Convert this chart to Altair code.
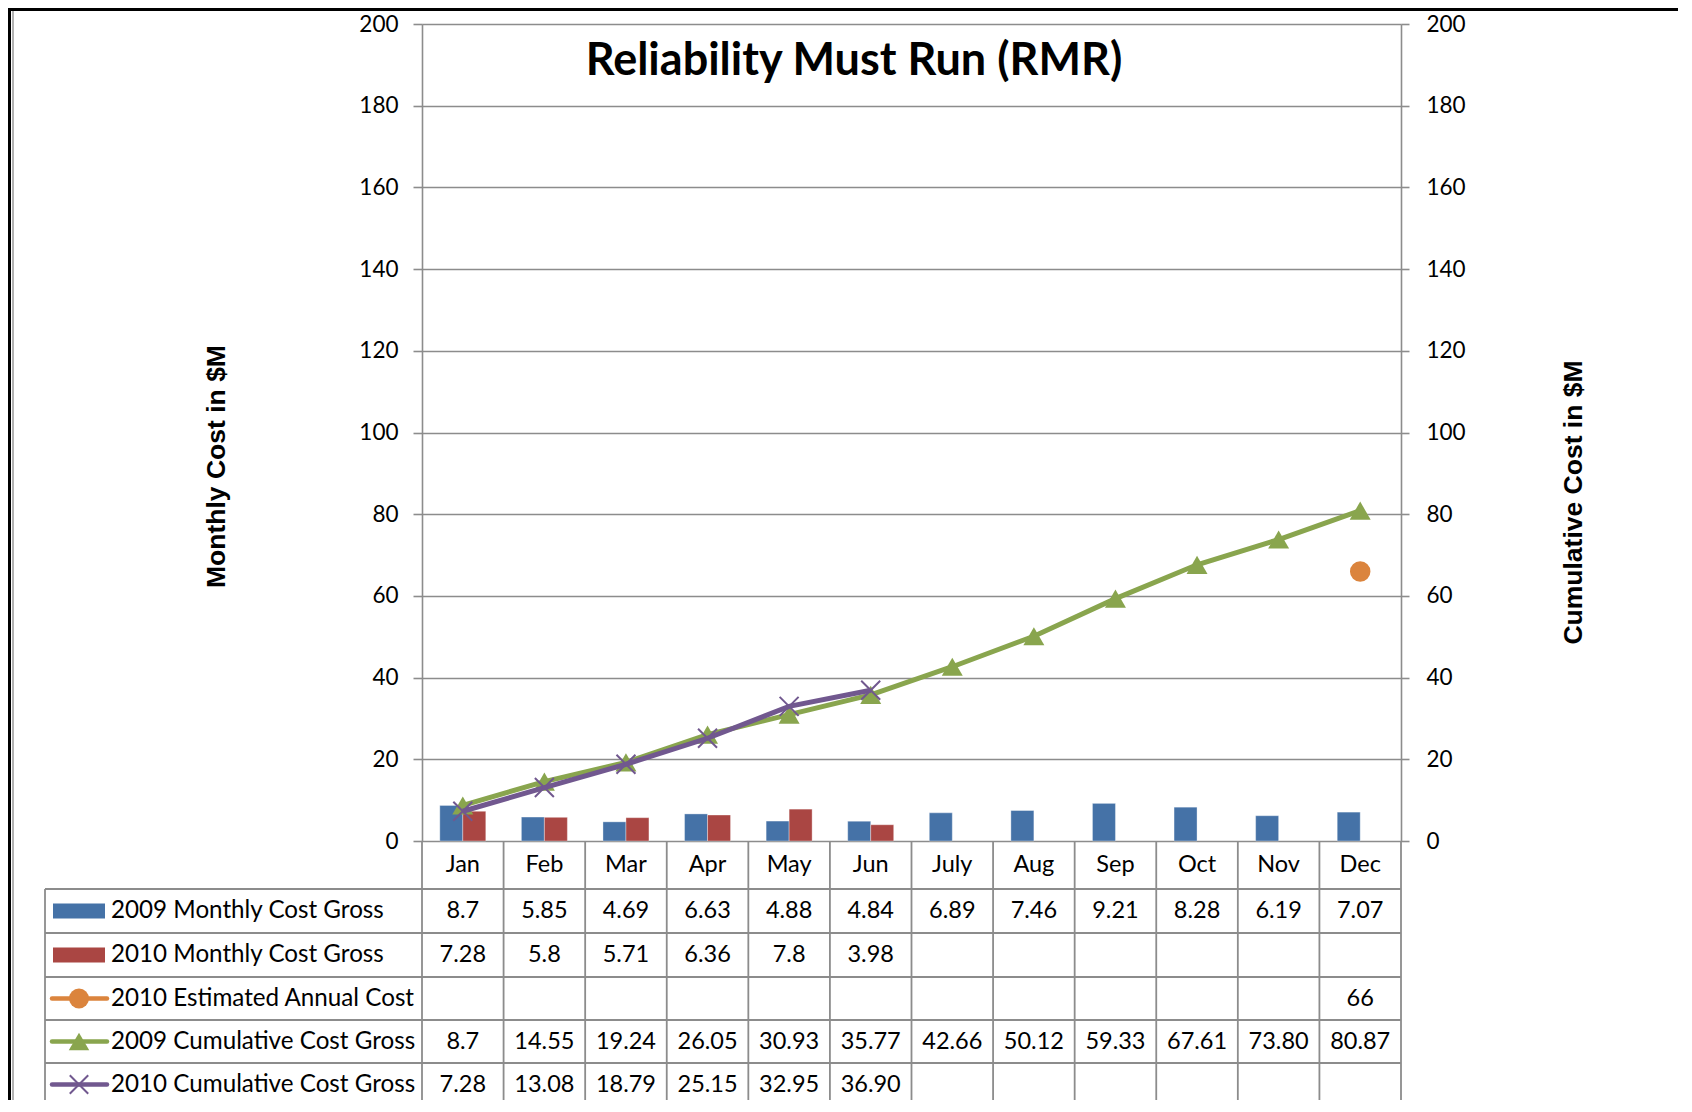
import altair as alt
import pandas as pd

# ---------------- data (as shown in the chart's data table) ----------------
months = ["Jan", "Feb", "Mar", "Apr", "May", "Jun", "July", "Aug", "Sep", "Oct", "Nov", "Dec"]
monthly_2009 = ["8.7", "5.85", "4.69", "6.63", "4.88", "4.84", "6.89", "7.46", "9.21", "8.28", "6.19", "7.07"]
monthly_2010 = ["7.28", "5.8", "5.71", "6.36", "7.8", "3.98"]
estimate_2010_months = ["Dec"]
estimate_2010 = ["66"]
cumulative_2009 = ["8.7", "14.55", "19.24", "26.05", "30.93", "35.77", "42.66", "50.12", "59.33", "67.61", "73.80", "80.87"]
cumulative_2010 = ["7.28", "13.08", "18.79", "25.15", "32.95", "36.90"]
y_ticks = [0, 20, 40, 60, 80, 100, 120, 140, 160, 180, 200]

S_M09 = "2009 Monthly Cost Gross"
S_M10 = "2010 Monthly Cost Gross"
S_EST = "2010 Estimated Annual Cost"
S_C09 = "2009 Cumulative Cost Gross"
S_C10 = "2010 Cumulative Cost Gross"
row_labels = [S_M09, S_M10, S_EST, S_C09, S_C10]

BLUE, RED, ORANGE, GREEN, PURPLE = "#4572A7", "#AA4643", "#DB843D", "#89A54E", "#71588F"
GRID = "#8c8c8c"
FONT = "Lato"

# ---------------- layout ----------------
W, H = 979, 817
PAD_L, PAD_T, PAD_R, PAD_B = 414, 16, 277, 259
row_edges = [817, 865, 909, 953, 996, 1039, 1082]
row_centers = [(row_edges[i] + row_edges[i + 1]) / 2 for i in range(len(row_edges) - 1)]
TABLE_LEFT = -377
BOTTOM = H + PAD_B


def series_df(labels, values, series):
    return pd.DataFrame({"month": labels[:len(values)], "text": values,
                         "value": [float(v) for v in values], "series": series})


def X(**kw):
    return alt.X("month:N", scale=alt.Scale(domain=months, paddingInner=0, paddingOuter=0),
                 axis=None, **kw)


def Yhidden():
    return alt.Y("value:Q", scale=alt.Scale(domain=[0, 200], nice=False), axis=None)


one = pd.DataFrame({"k": [0]})

axis_common = dict(values=y_ticks, domain=True, domainColor=GRID, domainWidth=1.6,
                   ticks=True, tickColor=GRID, tickWidth=1.6,
                   labelFont=FONT, labelFontSize=22.5, labelColor="black",
                   titleFont="Liberation Sans", titleFontWeight="bold", titleFontSize=26.5,
                   titleColor="black", titleAngle=270, titleAlign="center", titleBaseline="middle")

left_axis = alt.Axis(orient="left", grid=True, gridColor=GRID, gridWidth=1.6, tickSize=9,
                     labelPadding=15, title="Monthly Cost in $M", titleX=-206, titleY=442,
                     **axis_common)
right_axis = alt.Axis(orient="right", grid=False, tickSize=8, labelPadding=17,
                      title="Cumulative Cost in $M", titleX=172, titleY=478, **axis_common)

# ---------------- plot layers ----------------
bars_df = pd.concat([series_df(months, monthly_2009, "2009"), series_df(months, monthly_2010, "2010")])
bars = alt.Chart(bars_df).mark_bar(stroke="white", strokeOpacity=0.35, strokeWidth=1).encode(
    x=X(),
    xOffset=alt.XOffset("series:N", scale=alt.Scale(domain=["2009", "2010"], paddingInner=0, paddingOuter=0.774)),
    y=alt.Y("value:Q", scale=alt.Scale(domain=[0, 200], nice=False), axis=left_axis),
    color=alt.Color("series:N", scale=alt.Scale(domain=["2009", "2010"], range=[BLUE, RED]), legend=None),
)

c09 = series_df(months, cumulative_2009, S_C09)
c10 = series_df(months, cumulative_2010, S_C10)
est = series_df(estimate_2010_months, estimate_2010, S_EST)

green_line = alt.Chart(c09).mark_line(color=GREEN, strokeWidth=5).encode(
    x=X(), y=alt.Y("value:Q", scale=alt.Scale(domain=[0, 200], nice=False), axis=right_axis))
green_pts = alt.Chart(c09).mark_point(shape="triangle-up", filled=True, color=GREEN, size=440, opacity=1).encode(
    x=X(), y=Yhidden())
purple_line = alt.Chart(c10).mark_line(color=PURPLE, strokeWidth=5).encode(x=X(), y=Yhidden())
X_SHAPE = "M-1,-1L1,1M1,-1L-1,1"
purple_pts = alt.Chart(c10).mark_point(shape=X_SHAPE, filled=False, color=PURPLE, size=360,
                                       strokeWidth=2, opacity=1).encode(x=X(), y=Yhidden())
orange_pt = alt.Chart(est).mark_point(shape="circle", filled=True, color=ORANGE, size=420, opacity=1).encode(
    x=X(), y=Yhidden())

title = alt.Chart(one).mark_text(text="Reliability Must Run (RMR)", font=FONT, fontWeight="bold",
                                 fontSize=45, color="black", align="center", baseline="middle").encode(
    x=alt.value(432), y=alt.value(37))

# ---------------- data table ----------------
layers = []
rule_style = dict(color=GRID, strokeWidth=1.8)
# horizontal lines
for yy in row_edges[1:-1]:
    layers.append(alt.Chart(one).mark_rule(**rule_style).encode(
        x=alt.value(TABLE_LEFT), x2=alt.value(W), y=alt.value(yy)))
# left edge of table
layers.append(alt.Chart(one).mark_rule(**rule_style).encode(
    x=alt.value(TABLE_LEFT), y=alt.value(row_edges[1]), y2=alt.value(BOTTOM)))
# month boundaries
layers.append(alt.Chart(pd.DataFrame({"month": months})).mark_rule(**rule_style).encode(
    x=X(bandPosition=0), y=alt.value(row_edges[0]), y2=alt.value(BOTTOM)))
layers.append(alt.Chart(one).mark_rule(**rule_style).encode(
    x=alt.value(W), y=alt.value(row_edges[0]), y2=alt.value(BOTTOM)))

text_style = dict(font=FONT, color="black", baseline="middle")
# month names
layers.append(alt.Chart(pd.DataFrame({"month": months})).mark_text(align="center", fontSize=23.5, **text_style).encode(
    x=X(), y=alt.value(row_centers[0]), text="month:N"))

row_data = [series_df(months, monthly_2009, S_M09), series_df(months, monthly_2010, S_M10), est, c09, c10]
for i, (lab, df) in enumerate(zip(row_labels, row_data)):
    yc = row_centers[i + 1]
    layers.append(alt.Chart(df).mark_text(align="center", fontSize=23.5, **text_style).encode(
        x=X(), y=alt.value(yc), text="text:N"))
    layers.append(alt.Chart(one).mark_text(text=lab, align="left", fontSize=24.2, **text_style).encode(
        x=alt.value(-311), y=alt.value(yc)))

# legend keys
key_x0, key_x1, key_c = -370, -315, -343
for yc, col in [(row_centers[1], BLUE), (row_centers[2], RED)]:
    layers.append(alt.Chart(one).mark_rect(color=col).encode(
        x=alt.value(key_x0 + 1), x2=alt.value(key_x1 - 2), y=alt.value(yc - 7.5), y2=alt.value(yc + 7.5)))
for yc, col, shape, filled, size in [(row_centers[3], ORANGE, "circle", True, 400),
                                     (row_centers[4], GREEN, "triangle-up", True, 420),
                                     (row_centers[5], PURPLE, X_SHAPE, False, 340)]:
    layers.append(alt.Chart(one).mark_rule(color=col, strokeWidth=4.5, strokeCap="round").encode(
        x=alt.value(key_x0), x2=alt.value(key_x1), y=alt.value(yc)))
    layers.append(alt.Chart(one).mark_point(shape=shape, filled=filled, color=col, size=size,
                                            strokeWidth=2, opacity=1).encode(
        x=alt.value(key_c), y=alt.value(yc)))

# outer chart border
layers.append(alt.Chart(one).mark_rule(color="black", strokeWidth=3).encode(
    x=alt.value(-PAD_L), x2=alt.value(W + PAD_R), y=alt.value(-14.5)))
layers.append(alt.Chart(one).mark_rule(color="black", strokeWidth=3).encode(
    x=alt.value(-412.5), y=alt.value(-16), y2=alt.value(BOTTOM)))
layers.append(alt.Chart(one).mark_rule(color="#9a9a9a", strokeWidth=1.5).encode(
    x=alt.value(-409), y=alt.value(-13), y2=alt.value(BOTTOM)))

chart = alt.layer(
    bars, green_line, green_pts, purple_line, purple_pts, orange_pt, title, *layers
).resolve_scale(y="independent").properties(
    width=W, height=H,
    autosize=alt.AutoSizeParams(type="none"),
    padding={"left": PAD_L, "top": PAD_T, "right": PAD_R, "bottom": PAD_B},
).configure_view(stroke=None).configure(background="white")

chart.save("out.html", embed_options={"renderer": "svg", "actions": False})
